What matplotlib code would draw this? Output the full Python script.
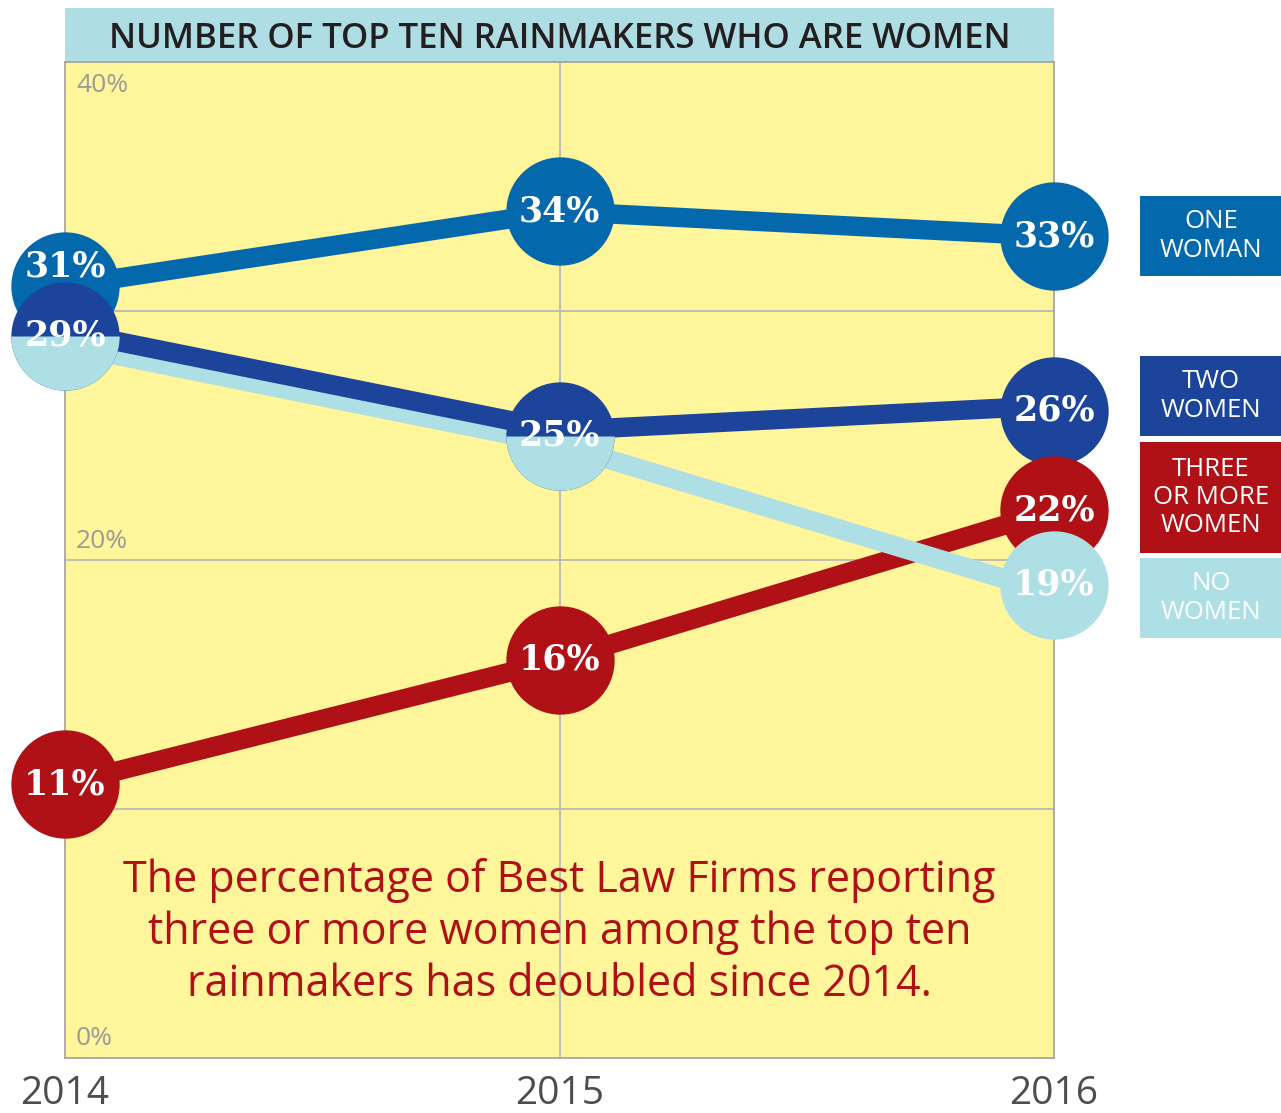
import numpy as np
import matplotlib
matplotlib.use("Agg")
import matplotlib.pyplot as plt
from matplotlib.patches import Rectangle
import matplotlib.transforms as mtransforms

# data
years = [2014, 2015, 2016]
one_woman = [31, 34, 33]
two_women = [29, 25, 26]
three_plus = [11, 16, 22]
no_women = [29, 25, 19]

series_names = ["ONE\nWOMAN", "TWO\nWOMEN", "THREE\nOR MORE\nWOMEN", "NO\nWOMEN"]
colors = ["#0468ad", "#1c449b", "#b01116", "#aedfe4"]

title = "NUMBER OF TOP TEN RAINMAKERS WHO ARE WOMEN"
note = ("The percentage of Best Law Firms reporting\n"
        "three or more women among the top ten\n"
        "rainmakers has deoubled since 2014.")

fig = plt.figure(figsize=(12.81, 11.13), dpi=100)
ax = fig.add_axes([65 / 1281, 55 / 1113, (1054 - 65) / 1281, (1058 - 62) / 1113])
ax.set_facecolor("#fff59b")
ax.set_xlim(2014, 2016)
ax.set_ylim(0, 40)
ax.set_xticks([2015])
ax.set_yticks([10, 20, 30])
ax.grid(True, color="#b5b5b5", linewidth=1.2)
ax.tick_params(length=0, labelbottom=False, labelleft=False)
for s in ax.spines.values():
    s.set_color("#a0a0a0")
    s.set_linewidth(1.2)

# title band
ax.add_patch(Rectangle((0, 1), 1, 54 / 996, transform=ax.transAxes,
                       facecolor="#aedde3", edgecolor="none", clip_on=False))
ax.text(0.5, 1 + 23 / 996, title, transform=ax.transAxes, ha="center", va="center",
        fontsize=25, fontweight="semibold", color="#231f20", family="Open Sans")

# y labels inside
for v, yc in [(40, 39.05), (20, 20.75), (0, 0.8)]:
    ax.text(2014.022, yc, f"{v}%", ha="left", va="center", fontsize=19,
            color="#9a9a9a", family="Open Sans")

# year labels
for yr in years:
    ax.text(yr, -1.45, str(yr), ha="center", va="center", fontsize=28,
            color="#4d4d4d", family="Open Sans", fontweight="medium", clip_on=False)

lw = 14
ms = 78
off_up = mtransforms.offset_copy(ax.transData, fig=fig, x=0, y=5, units="dots")
off_dn = mtransforms.offset_copy(ax.transData, fig=fig, x=0, y=-9, units="dots")

ax.plot(years, one_woman, color=colors[0], lw=lw, zorder=3, clip_on=False)
ax.plot(years, three_plus, color=colors[2], lw=lw, zorder=3, clip_on=False)
ax.plot(years, no_women, color=colors[3], lw=lw, zorder=3.5, clip_on=False,
        transform=off_dn)
ax.plot(years, two_women, color=colors[1], lw=lw, zorder=3.6, clip_on=False,
        transform=off_up)

ax.plot(years, one_woman, "o", color=colors[0], ms=ms, mew=0, zorder=5, clip_on=False)
ax.plot(years, two_women, "o", color=colors[1], ms=ms, mew=0, zorder=6, clip_on=False)
ax.plot(years, three_plus, "o", color=colors[2], ms=ms, mew=0, zorder=7, clip_on=False)

shared = [i for i in range(3) if no_women[i] == two_women[i]]
alone = [i for i in range(3) if no_women[i] != two_women[i]]
ax.plot([years[i] for i in shared], [no_women[i] for i in shared], "o",
        color=colors[3], fillstyle="bottom", markerfacecoloralt="none",
        ms=ms, mew=0, zorder=6.5, clip_on=False)
ax.plot([years[i] for i in alone], [no_women[i] for i in alone], "o",
        color=colors[3], ms=ms, mew=0, zorder=8, clip_on=False)

# value labels
lab_kw = dict(ha="center", va="center", color="white", fontsize=25,
              fontweight="bold", family="DejaVu Serif", clip_on=False)
for i, yr in enumerate(years):
    dy = 0.8 if (i == 0) else 0
    ax.text(yr, one_woman[i] + dy, f"{one_woman[i]}%", zorder=10, **lab_kw)
    ax.text(yr, two_women[i], f"{two_women[i]}%", zorder=10, **lab_kw)
    ax.text(yr, three_plus[i], f"{three_plus[i]}%", zorder=10, **lab_kw)
    if no_women[i] != two_women[i]:
        ax.text(yr, no_women[i], f"{no_women[i]}%", zorder=10, **lab_kw)

ax.text(2015, 5.05, note, ha="center", va="center", fontsize=31, color="#b01116",
        family="Open Sans", linespacing=1.23)

# legend boxes
boxes = [(196, 276), (356, 436), (442, 553), (558, 638)]
for name, c, (y0, y1) in zip(series_names, colors, boxes):
    fig.patches.append(Rectangle((1140 / 1281, 1 - y1 / 1113), 141 / 1281, (y1 - y0) / 1113,
                                 transform=fig.transFigure, facecolor=c, edgecolor="none"))
    fig.text(1211 / 1281, 1 - (y0 + y1) / 2 / 1113, name, ha="center", va="center",
             color="white", fontsize=18.5, family="Open Sans", linespacing=1.18)

fig.savefig("out.png", dpi=100, facecolor="white")
